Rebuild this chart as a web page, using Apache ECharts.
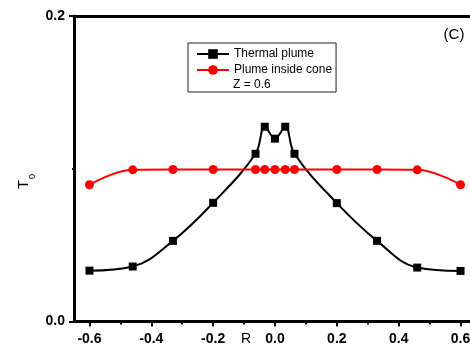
<!DOCTYPE html>
<html>
<head>
<meta charset="utf-8">
<script src="https://cdn.jsdelivr.net/npm/echarts@6/dist/echarts.min.js"></script>
<style>
html,body{margin:0;padding:0;background:#fff;}
#chart{width:470px;height:347px;}
</style>
</head>
<body>
<div id="chart"></div>
<script>
// ---- data ----
const rThermal = [-0.6, -0.46, -0.33, -0.2, -0.063, -0.033, 0, 0.033, 0.063, 0.2, 0.33, 0.46, 0.6];
const tThermal = [0.0333, 0.0360, 0.0528, 0.0777, 0.1098, 0.1275, 0.1197, 0.1275, 0.1098, 0.0775, 0.0528, 0.0353, 0.0331];
const rCone = [-0.6, -0.46, -0.33, -0.2, -0.063, -0.033, 0, 0.033, 0.063, 0.2, 0.33, 0.46, 0.6];
const tCone = [0.0895, 0.0993, 0.0995, 0.0995, 0.0995, 0.0995, 0.0995, 0.0995, 0.0995, 0.0995, 0.0995, 0.0993, 0.0895];
const xMajorTicks = [-0.6, -0.4, -0.2, 0, 0.2, 0.4, 0.6];
const xMinorTicks = [-0.5, -0.3, -0.1, 0.1, 0.3, 0.5];
const yMajorTicks = [0, 0.2];
const yMinorTicks = [0.1];
const seriesNames = ['Thermal plume', 'Plume inside cone'];
const panelLabel = '(C)';
const zLabel = 'Z = 0.6';
const xTitle = 'R';

const pair = (xs, ys) => xs.map((x, i) => [x, ys[i]]);
const FONT = 'Liberation Sans, Arial, sans-serif';

const chart = echarts.init(document.getElementById('chart'), null, {renderer: 'canvas'});
const xBase = {
  type: 'value', min: -0.65, max: 0.65, gridIndex: 0,
  splitLine: {show: false}
};
const yBase = {
  type: 'value', min: 0, max: 0.2, interval: 0.1, gridIndex: 0,
  splitLine: {show: false}
};
chart.setOption({
  animation: false,
  backgroundColor: '#fff',
  grid: {left: 74, top: 16, width: 402, height: 305.5, containLabel: false, outerBoundsMode: 'none'},
  xAxis: [
    Object.assign({}, xBase, {
      position: 'bottom',
      axisLine: {show: true, onZero: false, lineStyle: {color: '#000', width: 3}},
      axisTick: {show: true, customValues: xMajorTicks, length: 5, lineStyle: {color: '#000', width: 2}},
      axisLabel: {show: true, customValues: xMajorTicks, margin: 11, formatter: v => v.toFixed(1),
        fontFamily: FONT, fontWeight: 'bold', fontSize: 14, color: '#000'}
    }),
    Object.assign({}, xBase, {
      position: 'bottom',
      axisLine: {show: false, onZero: false},
      axisTick: {show: true, customValues: xMinorTicks, length: 3, lineStyle: {color: '#000', width: 2}},
      axisLabel: {show: false}
    }),
    Object.assign({}, xBase, {
      position: 'top',
      axisLine: {show: true, onZero: false, lineStyle: {color: '#000', width: 3}},
      axisTick: {show: false},
      axisLabel: {show: false}
    })
  ],
  yAxis: [
    Object.assign({}, yBase, {
      position: 'left',
      axisLine: {show: true, onZero: false, lineStyle: {color: '#000', width: 3}},
      axisTick: {show: true, customValues: yMajorTicks, length: 5, lineStyle: {color: '#000', width: 2}},
      axisLabel: {show: true, customValues: yMajorTicks, margin: 9, formatter: v => v.toFixed(1),
        fontFamily: FONT, fontWeight: 'bold', fontSize: 14, color: '#000'}
    }),
    Object.assign({}, yBase, {
      position: 'left',
      axisLine: {show: false, onZero: false},
      axisTick: {show: true, customValues: yMinorTicks, length: 2, lineStyle: {color: '#000', width: 2}},
      axisLabel: {show: false}
    })
  ],
  legend: {
    show: true,
    data: seriesNames,
    orient: 'vertical',
    left: 188, top: 43,
    padding: [5, 4, 16, 8],
    itemWidth: 32, itemHeight: 12, itemGap: 4,
    borderColor: '#222', borderWidth: 1, borderRadius: 0,
    backgroundColor: '#fff',
    textStyle: {fontFamily: FONT, fontSize: 12, color: '#000'}
  },
  series: [
    {
      name: seriesNames[0], type: 'line', xAxisIndex: 0, yAxisIndex: 0,
      data: pair(rThermal, tThermal), smooth: 0.4,
      symbol: 'rect', symbolSize: 8,
      itemStyle: {color: '#000'}, lineStyle: {color: '#000', width: 2}, z: 2
    },
    {
      name: seriesNames[1], type: 'line', xAxisIndex: 0, yAxisIndex: 0,
      data: pair(rCone, tCone), smooth: 0.4,
      symbol: 'circle', symbolSize: 9,
      itemStyle: {color: '#ff0000'}, lineStyle: {color: '#ff0000', width: 2}, z: 3
    }
  ],
  graphic: [
    {type: 'text', x: 454, y: 34.5, z: 10,
     style: {text: panelLabel, fontFamily: FONT, fontSize: 15, fill: '#000', align: 'center', verticalAlign: 'middle'}},
    {type: 'text', x: 233, y: 84.5, z: 10,
     style: {text: zLabel, fontFamily: FONT, fontSize: 12, fill: '#000', align: 'left', verticalAlign: 'middle'}},
    {type: 'text', x: 246, y: 339.5, z: 10,
     style: {text: xTitle, fontFamily: FONT, fontSize: 14, fill: '#000', align: 'center', verticalAlign: 'middle'}},
    {type: 'text', x: 23.5, y: 184.5, rotation: Math.PI / 2, z: 10,
     style: {text: 'T', fontFamily: FONT, fontSize: 15, fill: '#000', align: 'center', verticalAlign: 'middle'}},
    {type: 'text', x: 33, y: 176.5, rotation: Math.PI / 2, z: 10,
     style: {text: '0', fontFamily: FONT, fontSize: 9, fill: '#000', align: 'center', verticalAlign: 'middle'}}
  ]
});
</script>
</body>
</html>
